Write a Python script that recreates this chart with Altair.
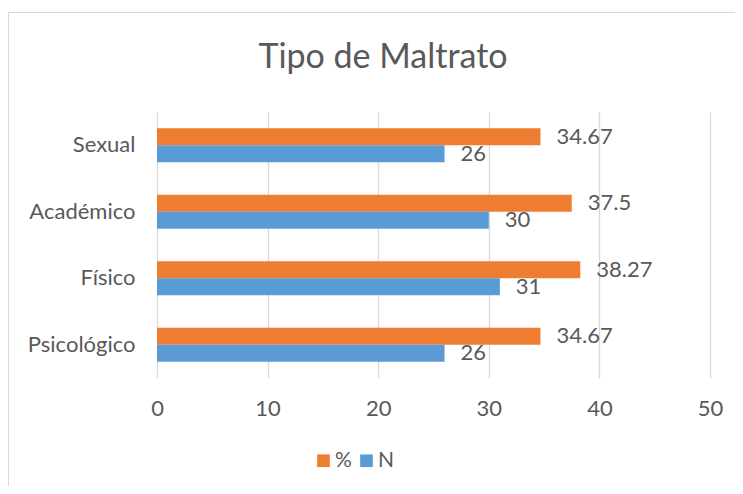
import altair as alt
import pandas as pd

categories = ["Sexual", "Académico", "Físico", "Psicológico"]
series = ["%", "N"]
pct_values = [34.67, 37.5, 38.27, 34.67]
n_values = [26, 30, 31, 26]
x_ticks = [0, 10, 20, 30, 40, 50]
title_text = "Tipo de Maltrato"

rows = []
for c, p, n in zip(categories, pct_values, n_values):
    rows.append({"cat": c, "serie": "%", "val": p})
    rows.append({"cat": c, "serie": "N", "val": n})
df = pd.DataFrame(rows)

FONT = "Lato"
GRAY = "#595959"
FS = 22

y_enc = alt.Y("cat:N", sort=categories,
              scale=alt.Scale(paddingInner=0.49, paddingOuter=0.245),
              axis=alt.Axis(title=None, ticks=False, domain=False, labelFontSize=FS,
                            labelColor=GRAY, labelFont=FONT, labelPadding=22, grid=False))
yoff = alt.YOffset("serie:N", sort=series, scale=alt.Scale(domain=series))
x_enc = alt.X("val:Q", scale=alt.Scale(domain=[0, 50], nice=False),
              axis=alt.Axis(title=None, values=x_ticks, ticks=False, domain=False,
                            grid=True, gridColor="#d9d9d9", gridWidth=1.3,
                            labelFontSize=FS, labelColor=GRAY, labelFont=FONT,
                            labelPadding=20, labelFlush=False))

bars = alt.Chart(df).mark_bar().encode(
    y=y_enc, yOffset=yoff, x=x_enc,
    color=alt.Color("serie:N", sort=series,
                    scale=alt.Scale(domain=series, range=["#ED7D31", "#5B9BD5"]),
                    legend=alt.Legend(title=None, orient="none", direction="horizontal",
                                      legendX=156, legendY=338, symbolType="square",
                                      symbolSize=160, symbolStrokeWidth=0,
                                      labelFontSize=21, labelColor=GRAY, labelFont=FONT,
                                      columnPadding=4, labelOffset=1)),
)

labels = alt.Chart(df).mark_text(align="left", baseline="middle", dx=16, fontSize=FS,
                                 font=FONT, color=GRAY).encode(
    y=alt.Y("cat:N", sort=categories), yOffset=alt.YOffset("serie:N", sort=series),
    x="val:Q", text=alt.Text("val:Q", format="~g"))

title = alt.Chart(pd.DataFrame({"t": [title_text]})).mark_text(
    fontSize=34, font=FONT, color=GRAY, align="center", baseline="alphabetic").encode(
    text="t:N", x=alt.value(226), y=alt.value(-44))

border = alt.Chart(pd.DataFrame({"a": [0]})).mark_rect(
    fill=None, stroke="#d9d9d9", strokeWidth=1).encode(
    x=alt.value(-148.5), x2=alt.value(700), y=alt.value(-99.5), y2=alt.value(500))

chart = alt.layer(border, bars, labels, title).properties(
    width=553, height=266,
    autosize=alt.AutoSizeParams(type="none"),
    padding={"left": 149, "top": 104, "right": 25, "bottom": 108},
).configure_view(stroke=None)

chart.save("out.html", embed_options={"renderer": "svg", "actions": False})
